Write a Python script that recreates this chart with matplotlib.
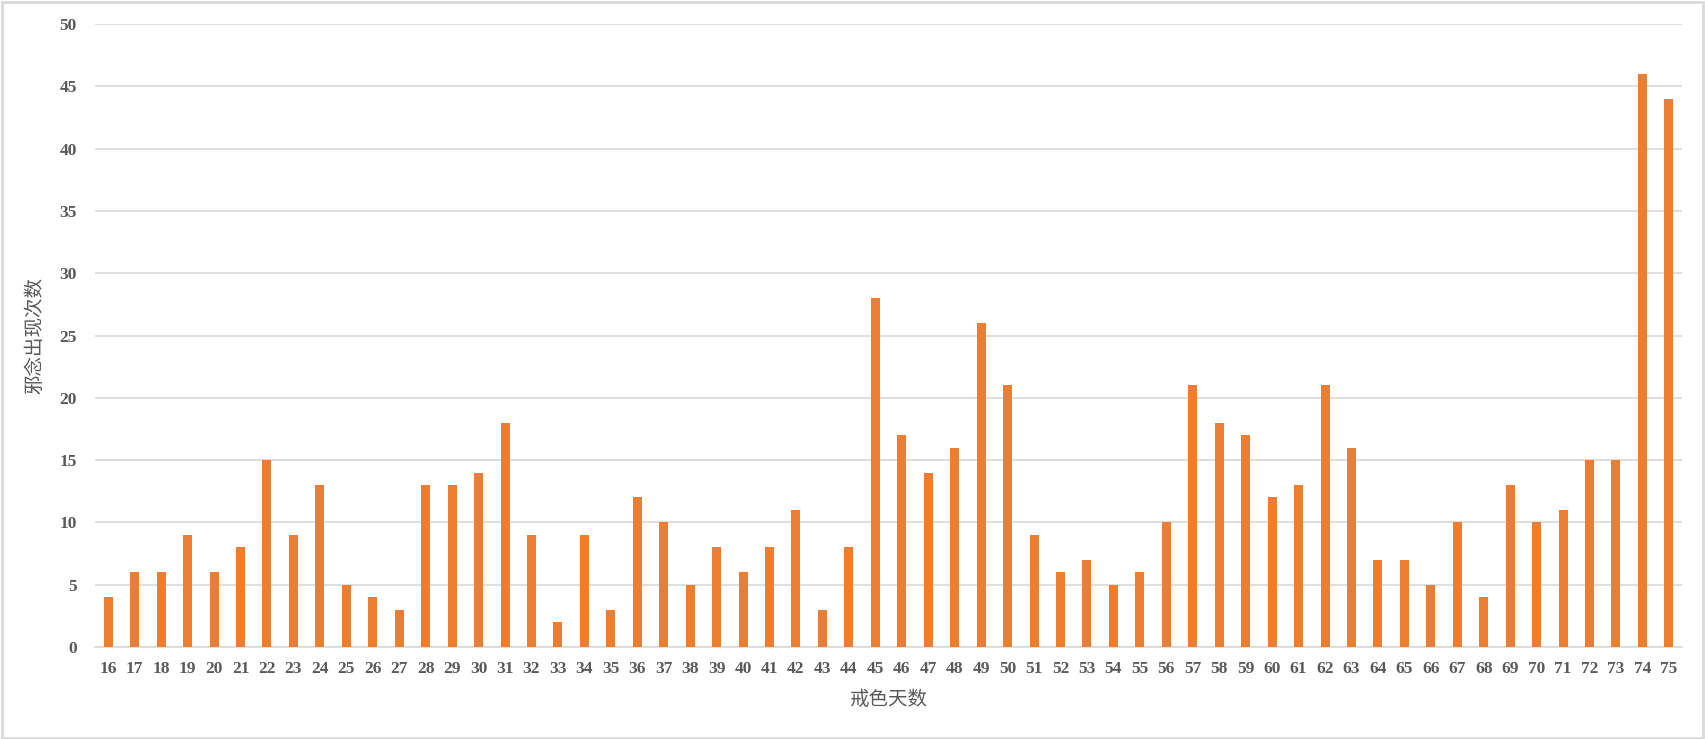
import matplotlib
matplotlib.use('Agg')
import matplotlib.pyplot as plt
from matplotlib.patches import Rectangle

# days (x categories) and counts
days = list(range(16, 76))
counts = [4, 6, 6, 9, 6, 8, 15, 9, 13, 5,
          4, 3, 13, 13, 14, 18, 9, 2, 9, 3,
          12, 10, 5, 8, 6, 8, 11, 3, 8, 28,
          17, 14, 16, 26, 21, 9, 6, 7, 5, 6,
          10, 21, 18, 17, 12, 13, 21, 16, 7, 7,
          5, 10, 4, 13, 10, 11, 15, 15, 46, 44]
yticks = list(range(0, 51, 5))

barColor = '#ED7D31'
textColor = '#595959'
cjk = ['Noto Sans CJK SC', 'DejaVu Sans']

fig = plt.figure(figsize=(17.06, 7.39), dpi=100)
ax = fig.add_axes([0.0557, 0.1245, 0.9303, 0.843])

pos = list(range(len(days)))
ax.bar(pos, counts, width=0.34, color=barColor, zorder=3)

ax.set_xlim(-0.5, len(days) - 0.5)
ax.set_ylim(0, 50)
ax.set_yticks(yticks)
ax.set_xticks(pos)
ax.set_xticklabels([str(d) for d in days])
ax.grid(axis='y', color='#d9d9d9', linewidth=1.2, zorder=0)
ax.tick_params(length=0, colors=textColor, labelsize=12.5)
ax.tick_params(axis='y', pad=13)
ax.tick_params(axis='x', pad=10)
for lab in ax.get_xticklabels() + ax.get_yticklabels():
    lab.set_fontfamily('Liberation Serif')
    lab.set_fontweight('bold')
for s in ['top', 'right', 'left']:
    ax.spines[s].set_visible(False)
ax.spines['bottom'].set_color('#d9d9d9')
ax.spines['bottom'].set_linewidth(1.2)

ax.set_xlabel('戒色天数', family=cjk, fontsize=14, color=textColor, labelpad=9)
ax.set_ylabel('邪念出现次数', family=cjk, fontsize=14, color=textColor, labelpad=10)

# light grey frame around the whole chart
fig.patches.append(Rectangle((0.001, 0.002), 0.997, 0.995, transform=fig.transFigure,
                             fill=False, edgecolor='#d9d9d9', linewidth=2))

plt.savefig('out.png', dpi=100)
